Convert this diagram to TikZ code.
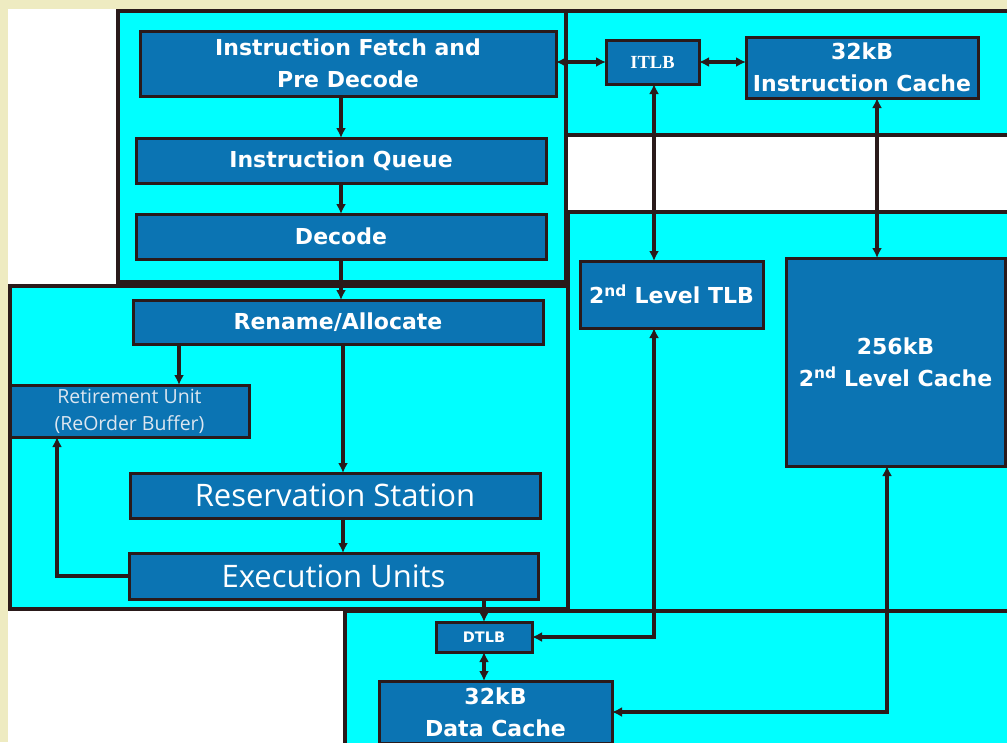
\documentclass[tikz,border=0pt]{standalone}
\usepackage{fontspec}
\setmainfont{DejaVu Sans}
\newfontfamily\osans{Open Sans}
\newfontfamily\tserif{Liberation Serif}
\usetikzlibrary{arrows.meta,calc}
\definecolor{cream}{HTML}{EEEBC1}
\definecolor{cyanbg}{HTML}{00FFFF}
\definecolor{boxblue}{HTML}{0B74B3}
\definecolor{edge}{HTML}{2A1A1A}
\definecolor{paletext}{HTML}{DCE6F0}
\begin{document}
\begin{tikzpicture}[x=1pt,y=-1pt,
  region/.style={fill=cyanbg, draw=edge, line width=3.2pt},
  blk/.style={draw=edge, fill=boxblue, line width=3pt, text=white, inner sep=0pt, outer sep=0pt,
     align=center, font=\bfseries\fontsize{22}{32}\selectfont},
  sz/.style 2 args={minimum width=#1pt, minimum height=#2pt},
  bigtxt/.style={font=\osans\fontsize{31}{32}\selectfont},
  smalltxt/.style={font=\osans\fontsize{19.5}{27}\selectfont, text=paletext},
  arr/.style={draw=edge, line width=3.2pt, -{Latex[length=10pt,width=10pt]}},
  dbl/.style={draw=edge, line width=3.2pt, {Latex[length=10pt,width=10pt]}-{Latex[length=10pt,width=10pt]}}]
\fill[cream] (0,0) rectangle (1007,742);
\useasboundingbox (0,0) rectangle (1007,742);
\clip (0,0) rectangle (1007,742);
\fill[white] (8,9) rectangle (1012,750);
% regions
\draw[region] (118,11) rectangle (566,282);
\draw[region] (566,11) rectangle (1012,135);
\draw[region] (568,212) rectangle (1012,611);
\draw[region] (10,286) rectangle (568,609);
\draw[region] (345,611) rectangle (1012,752);
% blocks
\node[blk, sz={416}{65}] (fetch) at (348,63.5) {Instruction Fetch and\\Pre Decode};
\node[blk, sz={410}{45}] (iq) at (341,160.5) {Instruction Queue};
\node[blk, sz={410}{45}] (decode) at (341,236.5) {Decode};
\node[blk, sz={93}{44}, font=\tserif\bfseries\fontsize{18.5}{20}\selectfont] (itlb) at (652.5,62) {ITLB};
\node[blk, sz={232}{61}] (icache) at (862,67.5) {32kB\\Instruction Cache};
\node[blk, sz={183}{67}] (l2tlb) at (671.5,294.5) {2\textsuperscript{nd} Level TLB};
\node[blk, sz={219}{208}] (l2c) at (895.5,362) {256kB\\2\textsuperscript{nd} Level Cache};
\node[blk, sz={410}{44}] (rename) at (338,322) {Rename/Allocate};
\node[blk, sz={239}{52}, smalltxt] (retire) at (129.5,411) {Retirement Unit\\(ReOrder Buffer)};
\node[blk, sz={410}{45}, bigtxt] (rs) at (335,495.5) {Reservation Station};
\node[blk, sz={409}{46}, bigtxt] (eu) at (333.5,576) {Execution Units};
\node[blk, sz={96}{30}, font=\bfseries\fontsize{14.5}{16}\selectfont] (dtlb) at (484,637) {DTLB};
\node[blk, sz={233}{62}] (dcache) at (495.5,712) {32kB\\Data Cache};
% connectors
\draw[arr] (iq.north |- fetch.south) -- (iq.north);
\draw[arr] (iq.south) -- (decode.north);
\draw[arr] (decode.south) -- (decode.south |- rename.north);
\draw[dbl] (fetch.east |- itlb.west) -- (itlb.west);
\draw[dbl] (itlb.east) -- (itlb.east -| icache.west);
\draw[dbl] ([xshift=1.5pt]itlb.south) -- ([xshift=1.5pt]itlb.south |- l2tlb.north);
\draw[dbl] ([xshift=15pt]icache.south) -- ([xshift=15pt]icache.south |- l2c.north);
\draw[arr] ([xshift=-159pt]rename.south) -- ([xshift=-159pt]rename.south |- retire.north);
\draw[arr] ([xshift=5pt]rename.south) -- ([xshift=5pt]rename.south |- rs.north);
\draw[arr] ([xshift=8pt]rs.south) -- ([xshift=8pt]rs.south |- eu.north);
\draw[arr] (eu.west) -| ([xshift=-72.5pt]retire.south);
\draw[arr] (eu.south -| dtlb.north) -- (dtlb.north);
\draw[dbl] (dtlb.south) -- (dtlb.south |- dcache.north);
\draw[dbl] ([xshift=-17.5pt]l2tlb.south) |- (dtlb.east);
\draw[dbl] ([xshift=-8.5pt]l2c.south) |- (dcache.east);
\end{tikzpicture}
\end{document}
